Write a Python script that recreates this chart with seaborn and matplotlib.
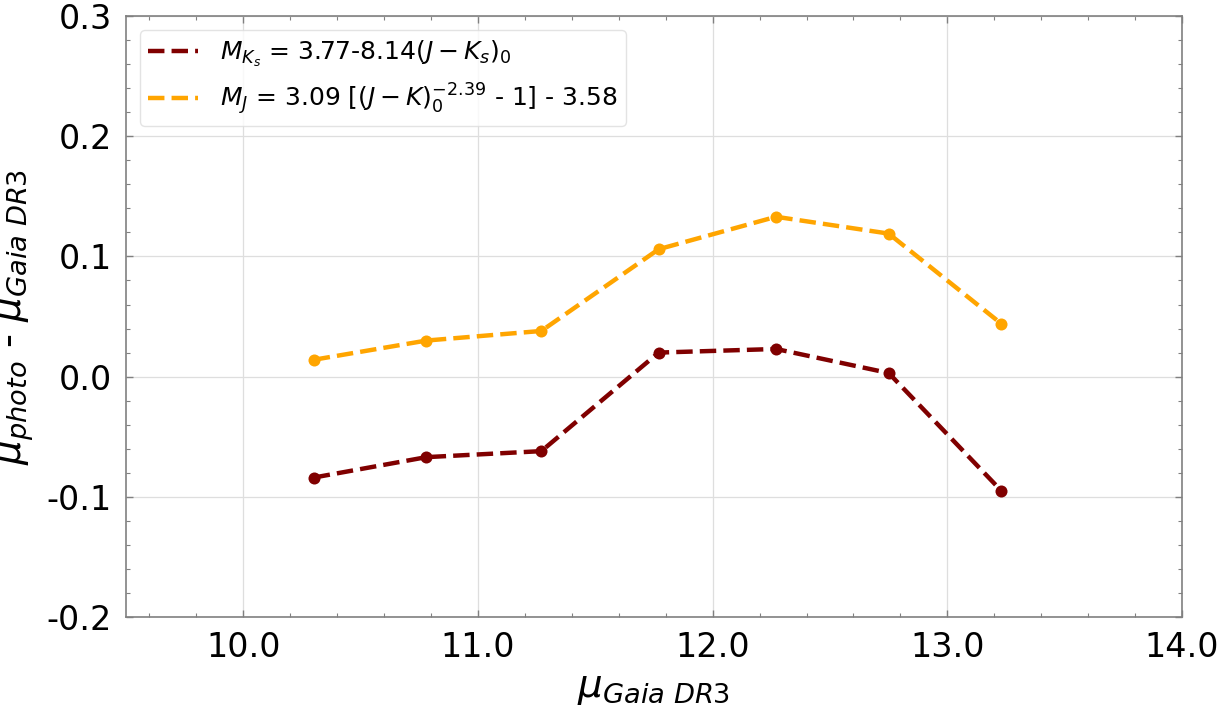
import matplotlib
matplotlib.use("Agg")
import matplotlib.pyplot as plt
import seaborn as sns
import pandas as pd
from matplotlib.ticker import FormatStrFormatter, MultipleLocator

# Distance-modulus bins and residuals for the two PL calibrations
mu_gaia = [10.30, 10.78, 11.27, 11.77, 12.27, 12.75, 13.23]
resid_ks = [-0.084, -0.067, -0.062, 0.020, 0.023, 0.003, -0.095]
resid_j = [0.014, 0.030, 0.038, 0.106, 0.133, 0.119, 0.044]

label_ks = r"$M_{K_s}$ = 3.77-8.14$(J-K_s)_0$"
label_j = r"$M_J$ = 3.09 [$(J-K)_0^{-2.39}$ - 1] - 3.58"
color_ks = "#800000"
color_j = "#FFA500"

sns.set_theme(style="whitegrid")
plt.rcParams["font.family"] = ["DejaVu Sans"]
plt.rcParams["axes.unicode_minus"] = False
plt.rcParams["mathtext.fontset"] = "dejavusans"
plt.rcParams["text.color"] = "black"
plt.rcParams["axes.labelcolor"] = "black"

df = pd.DataFrame({"mu": mu_gaia, "ks": resid_ks, "j": resid_j})

fig = plt.figure(figsize=(12.3, 7.07), dpi=100)
ax = fig.add_axes([0.1024, 0.1273, 0.8586, 0.8500])

for col, color, label in [("ks", color_ks, label_ks), ("j", color_j, label_j)]:
    sns.lineplot(data=df, x="mu", y=col, ax=ax, color=color, linewidth=3.2,
                 linestyle="--", label=label, zorder=3)
    sns.scatterplot(data=df, x="mu", y=col, ax=ax, color=color, s=75,
                    edgecolor=color, linewidth=0, zorder=4, legend=False)

ax.set_xlim(9.5, 14.0)
ax.set_ylim(-0.2, 0.3)
ax.xaxis.set_major_locator(MultipleLocator(1.0))
ax.xaxis.set_minor_locator(MultipleLocator(0.2))
ax.yaxis.set_major_locator(MultipleLocator(0.1))
ax.yaxis.set_minor_locator(MultipleLocator(0.02))
ax.xaxis.set_major_formatter(FormatStrFormatter("%.1f"))
ax.yaxis.set_major_formatter(FormatStrFormatter("%.1f"))

ax.grid(True, which="major", color="#dedede", linewidth=0.9)
ax.grid(False, which="minor")
ax.set_facecolor("white")
for sp in ax.spines.values():
    sp.set_color("#808080")
    sp.set_linewidth(1.2)

ax.tick_params(which="both", direction="in", top=True, right=True,
               bottom=True, left=True, color="#808080", labelcolor="black")
ax.tick_params(which="major", length=5, width=1, labelsize=24, pad=10)
ax.tick_params(which="minor", length=3, width=0.8)

ax.set_xlabel(r"$\mu_{Gaia\ DR3}$", fontsize=28, labelpad=4)
ax.set_ylabel(r"$\mu_{photo}$ - $\mu_{Gaia\ DR3}$", fontsize=28, labelpad=8)

leg = ax.legend(loc="upper left", fontsize=18, frameon=True, fancybox=True,
                handlelength=2.0, handletextpad=0.85, borderpad=0.35,
                labelspacing=0.5, borderaxespad=0.55)
leg.get_frame().set_edgecolor("#dddddd")
leg.get_frame().set_linewidth(1)

fig.savefig("out.png", dpi=100)
